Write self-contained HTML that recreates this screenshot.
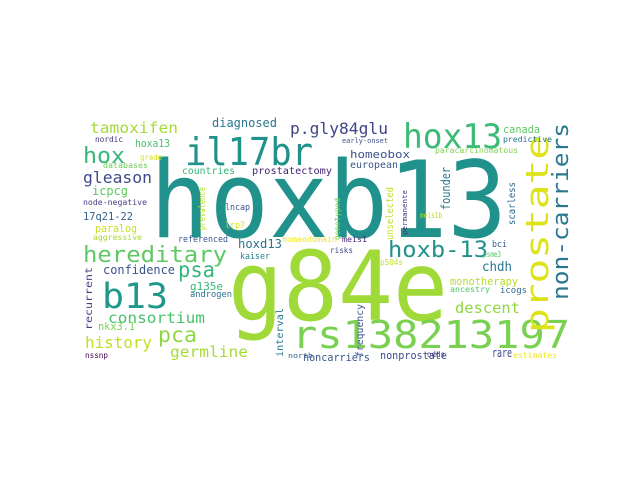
<!DOCTYPE html>
<html><head><meta charset="utf-8"><style>
html,body{margin:0;padding:0;background:#fff;}
svg{display:block;}
text{font-family:"DejaVu Sans Mono","Liberation Mono",monospace;}
</style></head><body>
<svg width="640" height="480" viewBox="0 0 640 480">
<rect x="0" y="0" width="640" height="480" fill="#fff"/>
<g id="words"></g>
</svg>
<script>
// word, x(left), baseline y, length(px), font size, color, vertical
const words = ["hoxb13","g84e","rs138213197","il17br","hox13","prostate","non-carriers","hereditary","b13","pca","psa","p.gly84glu","tamoxifen","hox","gleason","consortium","history","germline","hoxb-13","descent","diagnosed","hoxa13","nordic","grade","databases","icpcg","node-negative","17q21-22","paralog","aggressive","confidence","nkx3.1","nssnp","countries","prostatectomy","homeobox","european","early-onset","canada","predictive","paracarcinomatous","lncap","lrp7","referenced","homeodomain","meis1","kaiser","hoxd13","g135e","androgen","risks","bci","psme3","p504s","chdh","monotherapy","ancestry","icogs","meis1b","noncarriers","nonprostate","north","odds","rare","estimates","founder","scarless","unselected","permanente","genotyped","interval","frequency","prevalence","recurrent"];
const xs = [150,228,292,185,403,548,568,83,102,158,178,290,90,83,83,108,85,170,388,455,212,135,95,140,103,92,83,83,95,93,103,98,85,182,252,350,350,342,503,503,435,225,225,178,282,342,240,238,190,190,330,492,483,380,482,450,450,500,420,303,380,288,427,492,513,450,515,393,407,340,283,363,205,92];
const ys = [237,320,348,165,148,333,300,262,308,342,277,134,133,163,183,323,348,357,257,313,127,147,142,160,168,195,205,220,232,240,274,330,358,174,174,158,168,143,133,142,153,210,228,242,242,242,259,248,290,297,253,247,257,265,271,285,292,293,218,361,359,358,357,357,358,210,225,240,235,240,357,357,230,330];
const lens = [357,220,278,128,99,198,177,144,66,39,37,98,88,42,69,97,67,78,100,65,65,35,28,22,45,36,64,50,42,49,72,37,23,53,80,60,48,46,37,49,83,25,20,50,55,25,30,44,33,42,23,15,18,23,30,68,40,27,22,67,67,25,18,20,44,43,43,53,45,42,49,53,43,63];
const sizes = [106,96,38,38,34,31,22,22,35,21,21,16,15,22,16,15,16,15,22,15,12,11,8,8,8,12,8,11,11,8,12,11,7.5,10,10,11,10,7,11,8,8,9,9,9,8,8,9,12,11,9,8,9,8,8,13,11,8,9,8,11,11,7,8,12,8,12,10,10,7,8,10,10,9,10];
const colors = ["#21918c","#a0da39","#7ad151","#21918c","#3bbb75","#dde318","#2a788e","#5ec962","#1f988b","#8fd744","#35b779","#414487","#a5db36","#35b779","#3e4a89","#4ac16d","#c2df23","#a8db34","#21918c","#90d743","#2a788e","#4ac16d","#46337e","#d8e219","#6ccd5a","#5ec962","#433e85","#355f8d","#c8e020","#a5db36","#3b528b","#7ad151","#440154","#35b779","#482475","#3b528b","#39568c","#3b528b","#5ec962","#2c728e","#7fd34e","#3b528b","#d2e21b","#39568c","#f1e51d","#482878","#26828e","#2c728e","#35b779","#2c728e","#3e4a89","#38588c","#52c569","#c2df23","#2a788e","#b5de2b","#52c569","#31688e","#b5de2b","#39568c","#3e4a89","#33638d","#414487","#3e4a89","#f1e51d","#2a788e","#31688e","#c2df23","#46327e","#7ad151","#2a788e","#3b528b","#b5de2b","#414487"];
const vertical = [0,0,0,0,0,1,1,0,0,0,0,0,0,0,0,0,0,0,0,0,0,0,0,0,0,0,0,0,0,0,0,0,0,0,0,0,0,0,0,0,0,0,0,0,0,0,0,0,0,0,0,0,0,0,0,0,0,0,0,0,0,0,0,0,0,1,1,1,1,1,1,1,1,1];
// vertical words: x = baseline x, y = bottom of word
const vx = {"founder":450,"scarless":515,"unselected":393,"permanente":407,"genotyped":340,"interval":283,"frequency":363,"prevalence":205,"recurrent":92};
const g = document.getElementById('words');
const NS = 'http://www.w3.org/2000/svg';
for (let i = 0; i < words.length; i++) {
  const t = document.createElementNS(NS, 'text');
  
  
  t.setAttribute('font-size', sizes[i]);
  t.setAttribute('fill', colors[i]);
  t.setAttribute('textLength', lens[i]);
  t.setAttribute('lengthAdjust', 'spacingAndGlyphs');
  t.textContent = words[i];
  if (vertical[i]) {
    let bx = vx[words[i]] !== undefined ? vx[words[i]] : xs[i];
    let by = ys[i];
    t.setAttribute('x', 0); t.setAttribute('y', 0);
    t.setAttribute('transform', 'translate(' + bx + ',' + by + ') rotate(-90)');
  } else {
    t.setAttribute('x', xs[i]); t.setAttribute('y', ys[i]);
  }
  g.appendChild(t);
}
</script>
</body></html>
